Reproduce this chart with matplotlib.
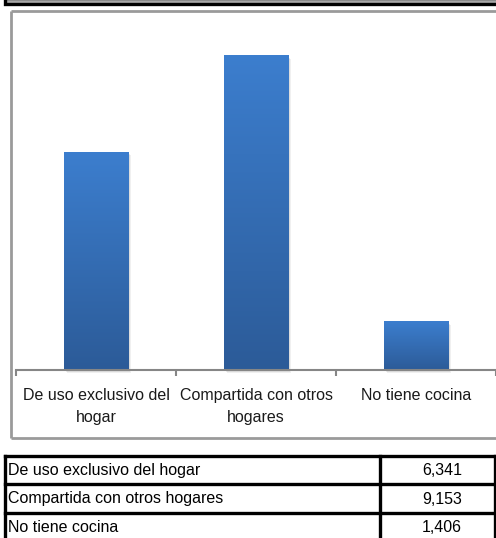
import numpy as np
import matplotlib
matplotlib.use("Agg")
import matplotlib.pyplot as plt
from matplotlib.patches import Rectangle
from matplotlib.colors import LinearSegmentedColormap

# data
categorias = ["De uso exclusivo del hogar", "Compartida con otros hogares", "No tiene cocina"]
etiquetas = ["De uso exclusivo del\nhogar", "Compartida con otros\nhogares", "No tiene cocina"]
valores = [6341, 9153, 1406]

plt.rcParams['font.family'] = ['Liberation Sans', 'DejaVu Sans']

W, H = 496, 538
fig = plt.figure(figsize=(W / 100, H / 100), dpi=100)

# overlay in pixel coords for frames and the table
ov = fig.add_axes([0, 0, 1, 1])
ov.set_xlim(0, W)
ov.set_ylim(H, 0)
ov.axis('off')

# bottom of a grey box at the very top
ov.add_patch(Rectangle((4.5, -2), W, 6.2, facecolor='#a6a6a6', edgecolor='black', lw=2.4))

# chart frame
frame = dict(color='#9a9a9a', lw=2, solid_capstyle='butt')
ov.plot([10.5, 10.5], [10.5, 437.5], **frame)
ov.plot([10.5, W + 2], [10.5, 10.5], **frame)
ov.plot([10.5, W + 2], [437.5, 437.5], **frame)

# table
row_y = [455.5, 484, 513, 542]
for y in row_y:
    ov.plot([4.5, 494.5], [y, y], color='black', lw=2.4, solid_capstyle='projecting')
for x in [4.5, 380, 494.5]:
    ov.plot([x, x], [row_y[0], 545], color='black', lw=2.4, solid_capstyle='projecting')
for i, (cat, val) in enumerate(zip(categorias, valores)):
    yc = (row_y[i] + row_y[i + 1]) / 2 + 0.5
    ov.text(8, yc, cat, fontsize=11.5, va='center', ha='left', color='black')
    ov.text(442, yc, f"{val:,}", fontsize=11.5, va='center', ha='center', color='black')

# bar chart axes
ax_left, ax_right, ax_bottom, ax_top = 16, 496, 370, 26.4
ax = fig.add_axes([ax_left / W, (H - ax_bottom) / H, (ax_right - ax_left) / W, (ax_bottom - ax_top) / H])
ax.set_facecolor('none')

cmap = LinearSegmentedColormap.from_list('barra', ['#2c5b98', '#3c7ece'])
grad = np.linspace(0, 1, 256).reshape(-1, 1)
bw = 0.406
px_x = 3.0 / 480
px_y = 10000 / 343.6
for i, v in enumerate(valores):
    # soft shadow
    for k, a in [(3, 0.06), (2, 0.08), (1, 0.10)]:
        ax.add_patch(Rectangle((i - bw / 2 + k * px_x, -k * px_y), bw, v,
                               facecolor='black', alpha=a, lw=0, zorder=1, clip_on=False))
    ax.imshow(grad, extent=(i - bw / 2, i + bw / 2, 0, v), origin='lower', cmap=cmap,
              aspect='auto', zorder=2, interpolation='bilinear')
ax.set_xlim(-0.5, 2.5)
ax.set_ylim(0, 10000)

for s in ['left', 'right', 'top']:
    ax.spines[s].set_visible(False)
ax.spines['bottom'].set_color('#868686')
ax.spines['bottom'].set_linewidth(1.5)
ax.spines['bottom'].set_zorder(3)
ax.set_yticks([])
ax.set_xticks(range(len(etiquetas)))
ax.set_xticklabels(etiquetas, fontsize=11.5, color='#1a1a1a', linespacing=1.6)
ax.tick_params(axis='x', which='major', length=0, pad=13)
ax.set_xticks([-0.5, 0.5, 1.5, 2.5], minor=True)
ax.tick_params(axis='x', which='minor', length=4, width=1.5, color='#868686', direction='out')

fig.savefig('out.png', dpi=100)
